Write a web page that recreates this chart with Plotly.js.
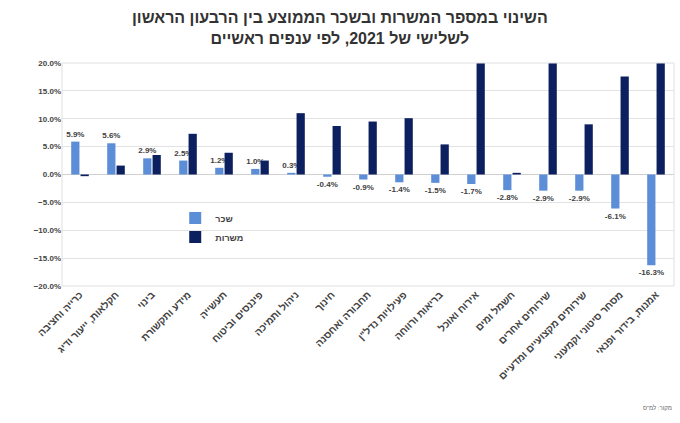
<!DOCTYPE html>
<html><head><meta charset="utf-8">
<script src="https://cdn.plot.ly/plotly-3.0.1.min.js"></script>
<style>body{margin:0;background:#fff}#c{width:680px;height:423px}</style>
</head><body><div id="c"></div>
<script>
const categories = ["כרייה וחציבה","חקלאות, ייעור ודיג","בינוי","מידע ותקשורת","תעשייה","פיננסים וביטוח","ניהול ותמיכה","חינוך","תחבורה ואחסנה","פעילויות נדל\"ן","בריאות ורווחה","אירוח ואוכל","חשמל ומים","שירותים אחרים","שירותים מקצועיים ומדעיים","מסחר סיטוני וקמעוני","אמנות, בידור ופנאי"];
const salary = [5.9,5.6,2.9,2.5,1.2,1.0,0.3,-0.4,-0.9,-1.4,-1.5,-1.7,-2.8,-2.9,-2.9,-6.1,-16.3];
const jobs = [-0.3,1.6,3.5,7.3,3.9,2.5,11.0,8.7,9.5,10.1,5.4,21.0,0.3,21.0,9.0,17.6,21.0];
const titleText = "השינוי במספר המשרות ובשכר הממוצע בין הרבעון הראשון<br>לשלישי של 2021, לפי ענפים ראשיים";
const sourceText = "מקור: למ\"ס";
const fontFam = "Liberation Sans, DejaVu Sans, Arial, sans-serif";

const traces = [
  {type:"bar", name:"שכר", x:categories, y:salary, marker:{color:"#5b8ed6"},
   text:salary.map(v=>v.toFixed(1)+"%"), textposition:"outside", cliponaxis:false, constraintext:"none",
   textfont:{size:8, color:"#404040", family:fontFam, weight:"bold"}, hoverinfo:"y"},
  {type:"bar", name:"משרות", x:categories, y:jobs, marker:{color:"#0c1f5e"}, cliponaxis:true, hoverinfo:"y"}
];
const layout = {
  width:680, height:423,
  margin:{l:62, r:6, t:63, b:137},
  paper_bgcolor:"#fff", plot_bgcolor:"#fff",
  font:{family:fontFam, color:"#444"},
  barmode:"group", bargap:0.48, bargroupgap:0.12,
  showlegend:true,
  legend:{x:0.185, y:0.37, xanchor:"left", yanchor:"top", bgcolor:"rgba(0,0,0,0)",
          font:{size:9, color:"#444", family:fontFam, weight:"bold"}, itemwidth:30, tracegroupgap:2},
  xaxis:{tickangle:-45, tickfont:{size:10, color:"#444", family:fontFam, weight:"bold"},
         showgrid:false, ticks:"", showline:false, automargin:false},
  yaxis:{range:[-20,20], dtick:5, tickformat:".1f", ticksuffix:"%",
         tickfont:{size:8, color:"#444", family:fontFam, weight:"bold"},
         gridcolor:"#e3e3e3", zeroline:true, zerolinecolor:"#d0d0d0", showline:false, automargin:false},
  annotations:[
    {text:titleText, xref:"paper", yref:"paper", x:0.455, y:1.155, xanchor:"center", yanchor:"middle",
     showarrow:false, font:{size:16, color:"#333", family:fontFam, weight:"bold"}},
    {text:sourceText, xref:"paper", yref:"paper", x:1, y:-0.547, xanchor:"right", yanchor:"middle",
     showarrow:false, font:{size:6, color:"#666", family:fontFam}}],
  shapes:[{type:"rect", xref:"paper", yref:"paper", x0:0, x1:1, y0:0, y1:1, line:{color:"#e0e0e0", width:1}}]
};
Plotly.newPlot("c", traces, layout, {displayModeBar:false, staticPlot:true});
</script></body></html>
